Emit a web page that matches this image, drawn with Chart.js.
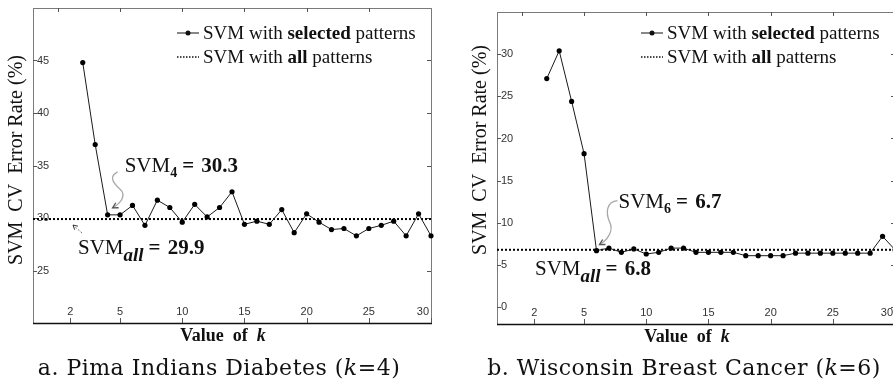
<!DOCTYPE html>
<html lang="en">
<head>
<meta charset="UTF-8">
<title>SVM CV error rate vs k</title>
<script src="https://cdn.jsdelivr.net/npm/chart.js"></script>
<style>
  html, body { margin: 0; padding: 0; overflow: hidden; background: #fff; }
  body { width: 893px; height: 382px; position: relative; }
  canvas { position: absolute; top: 0; }
  #pima { left: 0; }
  #wbc { left: 450px; }
  .caption {
    position: absolute; top: 355px;
    font-family: "DejaVu Serif", serif; font-size: 22px; letter-spacing: 0.5px;
    color: #111; white-space: nowrap; transform: translateX(-50%);
  }
</style>
</head>
<body>
<canvas id="pima" width="445" height="382"></canvas>
<canvas id="wbc" width="450" height="382"></canvas>
<div class="caption" style="left:219px">a. Pima Indians Diabetes (<i>k</i>=4)</div>
<div class="caption" style="left:684px">b. Wisconsin Breast Cancer (<i>k</i>=6)</div>

<script>
  // values of k on the x axis
  const kValues = [2, 3, 4, 5, 6, 7, 8, 9, 10, 11, 12, 13, 14, 15, 16, 17, 18, 19, 20, 21, 22, 23, 24, 25, 26, 27, 28, 29, 30];

  // Pima Indians Diabetes
  const pimaSelected = [44.8, 37.0, 30.3, 30.3, 31.2, 29.3, 31.7, 31.0, 29.6, 31.3, 30.1, 31.0, 32.5, 29.4, 29.7,
                        29.4, 30.8, 28.6, 30.4, 29.6, 28.9, 29.0, 28.3, 29.0, 29.3, 29.7, 28.3, 30.4, 28.3];
  const pimaAll = 29.9;

  // Wisconsin Breast Cancer
  const wbcSelected = [27.1, 30.4, 24.4, 18.2, 6.7, 7.0, 6.5, 6.9, 6.3, 6.5, 7.0, 7.0, 6.5, 6.5, 6.5,
                       6.5, 6.1, 6.1, 6.1, 6.1, 6.4, 6.4, 6.4, 6.4, 6.4, 6.4, 6.4, 8.4, 6.8];
  const wbcAll = 6.8;

  // tick labels
  const xTickPos = [1, 5, 10, 15, 20, 25, 30];
  const xTickLabels = ['2', '5', '10', '15', '20', '25', '30'];
  const xTopTicks = [0, 5, 10, 15, 20, 25];
  const pimaYTicks = [25, 30, 35, 40, 45];
  const wbcYTicks = [0, 5, 10, 15, 20, 25, 30];

  const legendRows = [['SVM with ', 'selected', ' patterns'], ['SVM with ', 'all', ' patterns']];

  const SERIF = '"Liberation Serif", "Times New Roman", serif';
  const SANS = '"Liberation Sans Narrow", "Liberation Sans", Arial, sans-serif';

  // per-chart decoration (axis titles, notes)
  const decor = {
    pima: {
      yTicks: pimaYTicks, titleY: 160,
      noteK: 4, noteSub: '4', noteVal: '30.3', noteDx: 17, noteDy: -43,
      squiggle: [[10, -43], [2, -39, 4, -33, 12, -26], [20, -19, 12, -11, 5, -7]],
      allVal: '29.9', allDx: 45, allDy: 35, allArrow: true
    },
    wbc: {
      yTicks: wbcYTicks, titleY: 150,
      noteK: 6, noteSub: '6', noteVal: '6.7', noteDx: 22, noteDy: -43,
      squiggle: [[21, -50], [10, -49, 9, -38, 13, -29], [18, -19, 10, -10, 3, -6]],
      allVal: '6.8', allDx: 38, allDy: 25, allArrow: false
    }
  };

  function drawRich(ctx, x, y, parts) {
    parts.forEach(p => {
      ctx.font = p.f;
      ctx.fillText(p.t, x, y + (p.dy || 0));
      x += ctx.measureText(p.t).width + (p.gap || 0);
    });
  }

  function arrowHead(ctx, x, y, fromX, fromY, size) {
    const ang = Math.atan2(y - fromY, x - fromX);
    ctx.beginPath();
    ctx.moveTo(x - size * Math.cos(ang - 0.5), y - size * Math.sin(ang - 0.5));
    ctx.lineTo(x, y);
    ctx.lineTo(x - size * Math.cos(ang + 0.5), y - size * Math.sin(ang + 0.5));
    ctx.stroke();
  }

  const decoPlugin = {
    id: 'deco',
    beforeDatasetsDraw(chart) {
      const d = decor[chart.canvas.id];
      const { ctx, chartArea: a, scales: { x, y } } = chart;
      ctx.save();
      // frame
      ctx.lineWidth = 1;
      ctx.strokeStyle = '#7a7a7a';
      ctx.strokeRect(Math.round(a.left) + 0.5, Math.round(a.top) + 0.5,
                     Math.round(a.right - a.left), Math.round(a.bottom - a.top));
      ctx.strokeStyle = '#111';
      ctx.lineWidth = 1.5;
      ctx.beginPath();
      ctx.moveTo(a.left, a.bottom + 0.5);
      ctx.lineTo(a.right + 1, a.bottom + 0.5);
      ctx.stroke();

      // tick marks
      ctx.lineWidth = 1;
      ctx.strokeStyle = '#555';
      ctx.beginPath();
      d.yTicks.forEach(v => {
        const py = Math.round(y.getPixelForValue(v)) + 0.5;
        ctx.moveTo(a.left, py); ctx.lineTo(a.left + 4, py);
        ctx.moveTo(a.right - 4, py); ctx.lineTo(a.right, py);
      });
      xTickPos.forEach(v => {
        const px = Math.round(x.getPixelForValue(v)) + 0.5;
        ctx.moveTo(px, a.bottom); ctx.lineTo(px, a.bottom - 5);
      });
      xTopTicks.forEach(v => {
        const px = Math.round(x.getPixelForValue(v)) + 0.5;
        ctx.moveTo(px, a.top); ctx.lineTo(px, a.top + 4);
      });
      ctx.stroke();

      // tick labels, inside the frame
      ctx.fillStyle = '#333';
      ctx.font = '11px ' + SANS;
      ctx.textBaseline = 'middle';
      ctx.textAlign = 'left';
      d.yTicks.forEach(v => ctx.fillText(String(v), a.left + 4, y.getPixelForValue(v)));
      xTickPos.forEach((v, i) => {
        const px = x.getPixelForValue(v);
        const last = i === xTickPos.length - 1;
        ctx.textAlign = last ? 'right' : 'center';
        ctx.fillText(xTickLabels[i], last ? Math.min(px + 6, a.right - 2) : px, a.bottom - 11);
      });
      ctx.restore();
    },
    afterDraw(chart) {
      const d = decor[chart.canvas.id];
      const { ctx, chartArea: a, scales: { x, y } } = chart;
      const sel = chart.data.datasets[0].data;
      ctx.save();
      ctx.fillStyle = '#111';
      ctx.textBaseline = 'alphabetic';

      // axis titles
      ctx.save();
      ctx.translate(a.left - 16, d.titleY);
      ctx.rotate(-Math.PI / 2);
      ctx.textAlign = 'center';
      ctx.textBaseline = 'middle';
      ctx.font = '20px ' + SERIF;
      ctx.fillText('SVM  CV  Error Rate (%)', 0, 0);
      ctx.restore();

      ctx.textAlign = 'left';
      const xtParts = [
        { t: 'Value  of  ', f: 'bold 18px ' + SERIF },
        { t: 'k', f: 'bold italic 18px ' + SERIF }
      ];
      let w = 0;
      xtParts.forEach(p => { ctx.font = p.f; w += ctx.measureText(p.t).width; });
      drawRich(ctx, (a.left + a.right) / 2 - 9 - w / 2, a.bottom + 18, xtParts);

      // legend
      ctx.font = '19px ' + SERIF;
      legendRows.forEach((row, r) => {
        const ly = 33 + r * 24;
        const x0 = a.right - 254, x1 = a.right - 232;
        ctx.strokeStyle = '#111';
        ctx.beginPath();
        if (r === 0) {
          ctx.lineWidth = 1;
          ctx.moveTo(x0, ly); ctx.lineTo(x1, ly); ctx.stroke();
          ctx.beginPath(); ctx.arc((x0 + x1) / 2, ly, 2.5, 0, Math.PI * 2); ctx.fill();
        } else {
          ctx.lineWidth = 1.5;
          ctx.setLineDash([1.5, 1.5]);
          ctx.moveTo(x0, ly); ctx.lineTo(x1, ly); ctx.stroke();
          ctx.setLineDash([]);
        }
        drawRich(ctx, a.right - 228, ly + 6, [
          { t: row[0], f: '19px ' + SERIF },
          { t: row[1], f: 'bold 19px ' + SERIF },
          { t: row[2], f: '19px ' + SERIF }
        ]);
      });

      // note at chosen k
      const idx = kValues.indexOf(d.noteK);
      const px = x.getPixelForValue(sel[idx].x), py = y.getPixelForValue(sel[idx].y);
      drawRich(ctx, px + d.noteDx, py + d.noteDy, [
        { t: 'SVM', f: '21px ' + SERIF },
        { t: d.noteSub, f: 'bold 14px ' + SERIF, dy: 5, gap: 5 },
        { t: '= ', f: 'bold 21px ' + SERIF, gap: 2 },
        { t: d.noteVal, f: 'bold 21px ' + SERIF }
      ]);
      const s = d.squiggle;
      ctx.strokeStyle = '#a8a8a8';
      ctx.lineWidth = 1.3;
      ctx.beginPath();
      ctx.moveTo(px + s[0][0], py + s[0][1]);
      ctx.bezierCurveTo(px + s[1][0], py + s[1][1], px + s[1][2], py + s[1][3], px + s[1][4], py + s[1][5]);
      ctx.bezierCurveTo(px + s[2][0], py + s[2][1], px + s[2][2], py + s[2][3], px + s[2][4], py + s[2][5]);
      ctx.stroke();
      ctx.strokeStyle = '#555';
      arrowHead(ctx, px + s[2][4], py + s[2][5], px + s[2][2], py + s[2][3], 6);

      // note for all-pattern line
      const ay = y.getPixelForValue(chart.data.datasets[1].data[0].y);
      const tx = a.left + d.allDx, ty = ay + d.allDy;
      ctx.fillStyle = '#111';
      drawRich(ctx, tx, ty, [
        { t: 'SVM', f: '21px ' + SERIF },
        { t: 'all', f: 'bold italic 19px ' + SERIF, dy: 7, gap: 5 },
        { t: '= ', f: 'bold 21px ' + SERIF, gap: 2 },
        { t: d.allVal, f: 'bold 21px ' + SERIF }
      ]);
      if (d.allArrow) {
        ctx.strokeStyle = '#777';
        ctx.lineWidth = 1;
        ctx.setLineDash([2, 1.5]);
        ctx.beginPath();
        ctx.moveTo(tx + 4, ty - 21); ctx.lineTo(tx - 5, ty - 29);
        ctx.stroke();
        ctx.setLineDash([]);
        ctx.strokeStyle = '#333';
        arrowHead(ctx, tx - 5, ty - 29, tx + 4, ty - 21, 5);
      }
      ctx.restore();
    }
  };

  function makeChart(id, selected, allValue, yMin, yMax, padding) {
    const xMin = -2, xMax = 30;
    new Chart(document.getElementById(id), {
      type: 'line',
      data: {
        datasets: [
          {
            label: 'SVM with selected patterns',
            data: kValues.map((k, i) => ({ x: k, y: selected[i] })),
            borderColor: '#1a1a1a',
            borderWidth: 1,
            pointRadius: 2.6,
            pointBackgroundColor: '#000',
            pointBorderWidth: 0,
            clip: false
          },
          {
            label: 'SVM with all patterns',
            data: [{ x: xMin, y: allValue }, { x: xMax, y: allValue }],
            borderColor: '#000',
            borderWidth: 2,
            borderDash: [2, 2],
            pointRadius: 0,
            clip: false
          }
        ]
      },
      options: {
        responsive: false,
        animation: false,
        events: [],
        layout: { padding },
        scales: {
          x: { type: 'linear', min: xMin, max: xMax, display: false },
          y: { type: 'linear', min: yMin, max: yMax, display: false }
        },
        plugins: {
          legend: { display: false },
          tooltip: { enabled: false }
        }
      },
      plugins: [decoPlugin]
    });
  }

  makeChart('pima', pimaSelected, pimaAll, 20, 50, { left: 33, top: 8, right: 14, bottom: 59 });
  makeChart('wbc', wbcSelected, wbcAll, -2, 35, { left: 47, top: 12, right: 5, bottom: 58 });
</script>
</body>
</html>
